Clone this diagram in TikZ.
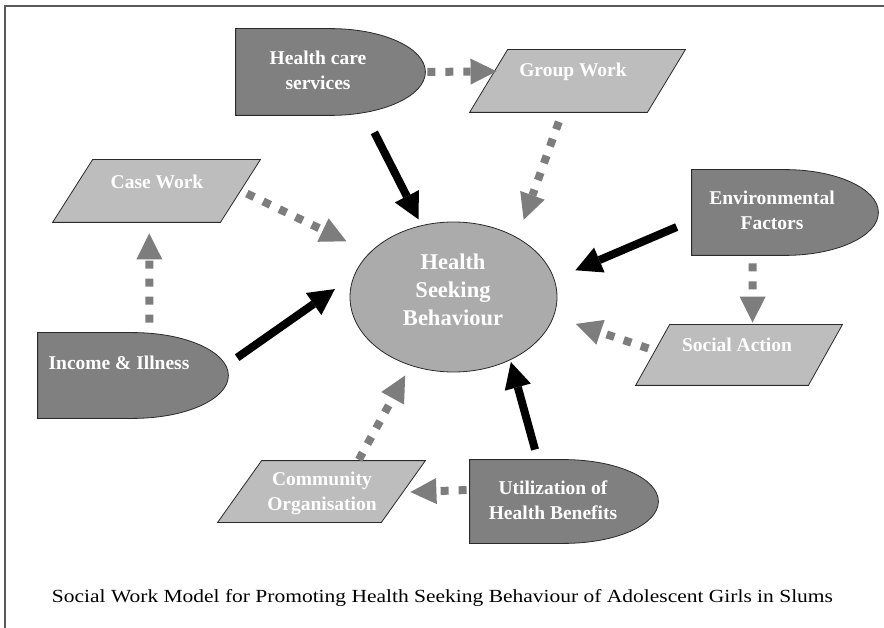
\documentclass[tikz,border=0pt]{standalone}
\usepackage{fontspec}
\usepackage{graphicx}
\setmainfont{Liberation Serif}
\usetikzlibrary{shapes.geometric,arrows.meta}

\definecolor{boxdark}{HTML}{808080}
\definecolor{boxlight}{HTML}{BDBDBD}
\definecolor{ellfill}{HTML}{ABABAB}
\definecolor{arrowgray}{HTML}{7D7D7D}
\definecolor{outline}{HTML}{2A2A2A}
\definecolor{framecol}{HTML}{5A5A5A}

\makeatletter
% horizontal slant of the parallelogram boxes (pt)
\def\paraoff{40}
\pgfkeys{/tikz/para offset/.code={\def\paraoff{#1}}}

% flowchart "delay": flat left half, half-ellipse right half
\pgfdeclareshape{delaybox}{%
  \inheritsavedanchors[from=rectangle]%
  \inheritanchorborder[from=rectangle]%
  \inheritanchor[from=rectangle]{center}%
  \inheritanchor[from=rectangle]{north}%
  \inheritanchor[from=rectangle]{south}%
  \inheritanchor[from=rectangle]{east}%
  \inheritanchor[from=rectangle]{west}%
  \inheritanchor[from=rectangle]{north east}%
  \inheritanchor[from=rectangle]{north west}%
  \inheritanchor[from=rectangle]{south east}%
  \inheritanchor[from=rectangle]{south west}%
  \backgroundpath{%
    \southwest \edef\db@lx{\the\pgf@x}\edef\db@ly{\the\pgf@y}%
    \northeast \edef\db@ux{\the\pgf@x}\edef\db@uy{\the\pgf@y}%
    \pgfmathsetmacro\db@rx{((\db@ux)-(\db@lx))/2}%
    \pgfmathsetmacro\db@ry{((\db@uy)-(\db@ly))/2}%
    \pgfmathsetmacro\db@mx{((\db@ux)+(\db@lx))/2}%
    \pgfpathmoveto{\pgfqpoint{\db@lx}{\db@ly}}%
    \pgfpathlineto{\pgfqpoint{\db@lx}{\db@uy}}%
    \pgfpathlineto{\pgfqpoint{\db@mx pt}{\db@uy}}%
    \pgfpatharc{90}{-90}{\db@rx pt and \db@ry pt}%
    \pgfpathclose
  }%
}

% parallelogram leaning to the right
\pgfdeclareshape{parabox}{%
  \inheritsavedanchors[from=rectangle]%
  \inheritanchorborder[from=rectangle]%
  \inheritanchor[from=rectangle]{center}%
  \inheritanchor[from=rectangle]{north}%
  \inheritanchor[from=rectangle]{south}%
  \inheritanchor[from=rectangle]{east}%
  \inheritanchor[from=rectangle]{west}%
  \inheritanchor[from=rectangle]{north east}%
  \inheritanchor[from=rectangle]{north west}%
  \inheritanchor[from=rectangle]{south east}%
  \inheritanchor[from=rectangle]{south west}%
  \backgroundpath{%
    \southwest \edef\pb@lx{\the\pgf@x}\edef\pb@ly{\the\pgf@y}%
    \northeast \edef\pb@ux{\the\pgf@x}\edef\pb@uy{\the\pgf@y}%
    \pgfmathsetmacro\pb@br{(\pb@ux)-\paraoff}%
    \pgfmathsetmacro\pb@tl{(\pb@lx)+\paraoff}%
    \pgfpathmoveto{\pgfqpoint{\pb@lx}{\pb@ly}}%
    \pgfpathlineto{\pgfqpoint{\pb@br pt}{\pb@ly}}%
    \pgfpathlineto{\pgfqpoint{\pb@ux}{\pb@uy}}%
    \pgfpathlineto{\pgfqpoint{\pb@tl pt}{\pb@uy}}%
    \pgfpathclose
  }%
}
\makeatother

\newsavebox\capbox
\sbox\capbox{\fontsize{18.5}{21}\selectfont Social Work Model for Promoting Health Seeking Behaviour of Adolescent Girls in Slums}

\tikzset{
  darkbox/.style={shape=delaybox, draw=outline, line width=0.8pt, fill=boxdark, inner sep=0pt},
  lightbox/.style={shape=parabox, draw=outline, line width=0.8pt, fill=boxlight, inner sep=0pt},
  centrebox/.style={ellipse, draw=outline, line width=0.8pt, fill=ellfill, inner sep=0pt},
  lbl/.style={text=white, font=\fontsize{19.5}{25}\selectfont\bfseries, align=center, inner sep=0pt},
  biglbl/.style={text=white, font=\fontsize{22.5}{28}\selectfont\bfseries, align=center, inner sep=0pt},
  solidarrow/.style={draw=black, line width=8pt,
    -{Triangle[length=26pt,width=27pt,line width=0pt]}},
  dotarrow/.style={draw=arrowgray, line width=8pt, dash pattern=on 8pt off 10pt,
    -{Triangle[length=26pt,width=26pt,line width=0pt]}},
}

\begin{document}
\begin{tikzpicture}[x=1pt,y=-1pt]
\useasboundingbox (0,0) rectangle (884,628);

% frame
\draw[framecol, line width=1.5pt] (5,628) -- (5,6) -- (884,6);

% shapes
\node[centrebox, minimum width=207pt, minimum height=150pt] (hsb) at (453.5,297) {};
\node[darkbox, minimum width=189pt, minimum height=86pt] (hcs) at (330.5,72) {};
\node[darkbox, minimum width=186pt, minimum height=85pt] (env) at (785,212.5) {};
\node[darkbox, minimum width=190pt, minimum height=85pt] (inc) at (133,375.5) {};
\node[darkbox, minimum width=188pt, minimum height=83pt] (util) at (564,501.5) {};
\node[lightbox, para offset=38, minimum width=215pt, minimum height=62pt] (gw) at (577.5,81) {};
\node[lightbox, para offset=40, minimum width=207pt, minimum height=62pt] (cw) at (156.5,191) {};
\node[lightbox, para offset=34, minimum width=206pt, minimum height=60pt] (sa) at (739,355) {};
\node[lightbox, para offset=44, minimum width=207pt, minimum height=61pt] (co) at (321.5,491.5) {};

% texts
\node[biglbl, xshift=-0.5pt, yshift=7pt] (hsb-t) at (hsb) {Health\\Seeking\\Behaviour};
\node[lbl, xshift=-12.5pt, yshift=1.5pt] (hcs-t) at (hcs) {Health care\\services};
\node[lbl, xshift=-13pt, yshift=2pt] (env-t) at (env) {Environmental\\Factors};
\node[lbl, xshift=-14pt, yshift=12.5pt] (inc-t) at (inc) {Income \& Illness};
\node[lbl, xshift=-11pt, yshift=1pt] (util-t) at (util) {Utilization of\\Health Benefits};
\node[lbl, xshift=-4.5pt, yshift=9pt] (gw-t) at (gw) {Group Work};
\node[lbl, xshift=0.5pt, yshift=9pt] (cw-t) at (cw) {Case Work};
\node[lbl, xshift=-2pt, yshift=10pt] (sa-t) at (sa) {Social Action};
\node[lbl, xshift=0.5pt, yshift=-2pt] (co-t) at (co) {Community\\Organisation};

% solid arrows
\draw[solidarrow, shorten <=19.1pt, shorten >=6.5pt] (hcs.-51.8) -- (hsb.114.5);
\draw[solidarrow, shorten <=16.2pt, shorten >=22.8pt] (env.185.7) -- (hsb.10.3);
\draw[solidarrow, shorten <=10.7pt, shorten >=23.1pt] (inc.7.1) -- (hsb.168.7);
\draw[solidarrow, shorten <=10.4pt, shorten >=2pt] (util.122.3) -- (hsb.-48.4);

% dotted arrows
\draw[dotarrow, shorten <=2pt, shorten >=-27pt] (hcs.east) -- (gw.175.2);
\draw[dotarrow, shorten <=10pt, shorten >=18.8pt] (gw.-116.6) -- (hsb.43.3);
\draw[dotarrow, shorten <=-15pt, shorten >=25.8pt] (cw.-5.7) -- (hsb.152);
\draw[dotarrow, shorten <=10pt, shorten >=11pt] (inc.69.4) -- (cw.-103.6);
\draw[dotarrow, shorten <=8pt, shorten >=2pt] (env.-127.8) -- (sa.66.6);
\draw[dotarrow, shorten <=-13.5pt, shorten >=23.2pt] (sa.174.6) -- (hsb.-11.7);
\draw[dotarrow, shorten <=1pt, shorten >=11.2pt] (co.40.2) -- (hsb.-122.3);
\draw[dotarrow, shorten <=3pt, shorten >=-15pt] (util.173) -- (co.0.8);

% caption
\pgfmathsetmacro\capscale{781/\wd\capbox}
\node[inner sep=0pt] (cap) at (442.5,598) {\scalebox{\capscale}[1]{\usebox\capbox}};
\end{tikzpicture}
\end{document}
